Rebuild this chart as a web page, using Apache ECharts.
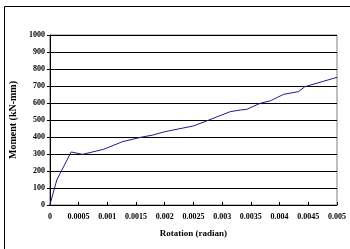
<!DOCTYPE html>
<html>
<head>
<meta charset="utf-8">
<script src="https://cdn.jsdelivr.net/npm/echarts@6/dist/echarts.min.js"></script>
<style>
  html, body { margin: 0; padding: 0; background: #fff; }
  #chart { width: 350px; height: 249px; }
</style>
</head>
<body>
<div id="chart"></div>
<script>
// 弯矩-转角曲线
const rotation = [0, 0.00012, 0.00037, 0.00057, 0.00094, 0.00126, 0.00158, 0.0018, 0.002, 0.0025, 0.00274, 0.00314, 0.00332, 0.00343, 0.00366, 0.00384, 0.00407, 0.00433, 0.00444, 0.005]
const moment = [0, 147, 312, 298, 328, 372, 398, 412, 431, 465, 496, 549, 559, 563, 598, 613, 651, 667, 696, 751]
const xTicks = [0, 0.0005, 0.001, 0.0015, 0.002, 0.0025, 0.003, 0.0035, 0.004, 0.0045, 0.005]
const yTicks = [0, 100, 200, 300, 400, 500, 600, 700, 800, 900, 1000]

const font = 'Liberation Serif'
const chart = echarts.init(document.getElementById('chart'))
const seriesData = rotation.map((r, i) => [r, moment[i]])

chart.setOption({
  animation: false,
  graphic: [{
    type: 'rect',
    shape: { x: 4.5, y: 6.5, width: 360, height: 260 },
    style: { fill: 'none', stroke: '#000', lineWidth: 1 }
  }],
  grid: {
    left: 49,
    right: 13,
    top: 35,
    bottom: 44,
    show: true,
    borderColor: '#808080',
    borderWidth: 1
  },
  xAxis: {
    type: 'value',
    min: 0,
    max: xTicks[xTicks.length - 1],
    interval: 0.0005,
    name: 'Rotation (radian)',
    nameLocation: 'middle',
    nameGap: 24,
    nameTextStyle: { fontFamily: font, fontWeight: 'bold', fontSize: 9, color: '#000' },
    axisLine: { lineStyle: { color: '#000', width: 1 } },
    axisTick: { show: true, inside: true, length: 3, lineStyle: { color: '#000' } },
    axisLabel: {
      margin: 8,
      fontFamily: font,
      fontWeight: 'bold',
      fontSize: 8,
      color: '#000',
      formatter: v => String(parseFloat(v.toFixed(4)))
    },
    splitLine: { show: false }
  },
  yAxis: {
    type: 'value',
    min: 0,
    max: yTicks[yTicks.length - 1],
    interval: 100,
    name: 'Moment (kN-mm)',
    nameLocation: 'middle',
    nameGap: 29,
    nameTextStyle: { fontFamily: font, fontWeight: 'bold', fontSize: 10, color: '#000' },
    axisLine: { show: true, lineStyle: { color: '#000', width: 1 } },
    axisTick: { show: true, length: 3, lineStyle: { color: '#000' } },
    axisLabel: {
      margin: 5,
      fontFamily: font,
      fontWeight: 'bold',
      fontSize: 8,
      color: '#000',
      formatter: v => String(v)
    },
    splitLine: { show: true, lineStyle: { color: '#000', width: 1 } }
  },
  series: [{
    type: 'line',
    data: seriesData,
    symbol: 'none',
    lineStyle: { color: '#1c1c8c', width: 1 }
  }]
})
</script>
</body>
</html>
